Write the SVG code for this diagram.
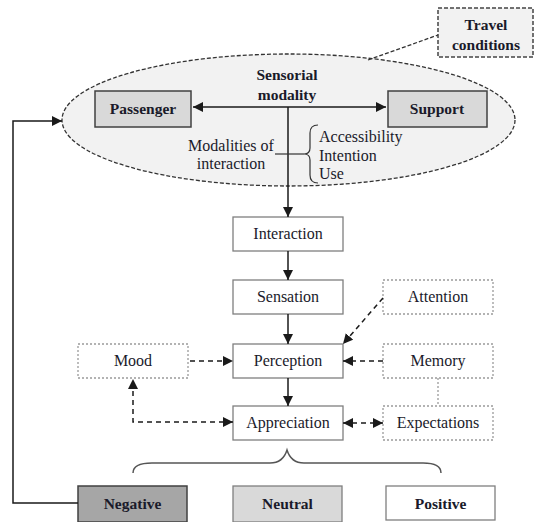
<svg xmlns="http://www.w3.org/2000/svg" width="536" height="522" viewBox="0 0 536 522">
<style>
text{font-family:'Liberation Serif','Times New Roman',Times,'DejaVu Serif',serif;fill:#1a1a2a;text-anchor:middle}
.b{font-weight:bold;font-size:15.5px}
.r{font-size:16px}
.box{fill:#fff;stroke:#7f7f7f;stroke-width:1.3}
.dot{fill:#fff;stroke:#9a9a9a;stroke-width:1.3;stroke-dasharray:2 2}
.gray{fill:#d9d9d9;stroke:#404040;stroke-width:1.5}
.solid{fill:none;stroke:#1a1a1a;stroke-width:1.5}
.dash{fill:none;stroke:#1a1a1a;stroke-width:1.5;stroke-dasharray:5 4}
</style>
<defs>
<marker id="ah" viewBox="0 0 10 10" refX="10" refY="5" markerWidth="10" markerHeight="10" markerUnits="userSpaceOnUse" orient="auto-start-reverse">
<path d="M0,0L10,5L0,10z" fill="#1a1a1a"/>
</marker>
</defs>
<g id="context">
<ellipse cx="288.5" cy="120" rx="226.5" ry="66" fill="#f2f2f2" stroke="#333" stroke-width="1.3" stroke-dasharray="4 2"/>
</g>
<g id="travel">
<rect x="438" y="8" width="95" height="49" fill="#f2f2f2" stroke="#444" stroke-width="1.5" stroke-dasharray="4 2"/>
<text class="b" x="486" y="30">Travel</text>
<text class="b" x="486" y="50">conditions</text>
</g>
<g id="passenger">
<rect class="gray" x="95" y="91" width="96" height="36"/>
<text class="b" x="143" y="114">Passenger</text>
</g>
<g id="support">
<rect class="gray" x="388" y="91" width="99" height="36"/>
<text class="b" x="437" y="114">Support</text>
</g>
<g id="sensorial">
<text class="b" x="287" y="80">Sensorial</text>
<text class="b" x="287" y="100">modality</text>
</g>
<g id="modalities">
<text class="r" x="231" y="151">Modalities of</text>
<text class="r" x="231" y="169">interaction</text>
<path d="M318,125 Q310,125 310,133 L310,148 Q310,154 304,154 Q310,154 310,160 L310,175 Q310,183 318,183" fill="none" stroke="#333" stroke-width="1.2"/>
<text class="r" x="319" y="142" style="text-anchor:start">Accessibility</text>
<text class="r" x="319" y="161" style="text-anchor:start">Intention</text>
<text class="r" x="319" y="179" style="text-anchor:start">Use</text>
</g>
<g id="interaction">
<rect class="box" x="233" y="217" width="110" height="34"/>
<text class="r" x="288" y="239">Interaction</text>
</g>
<g id="sensation">
<rect class="box" x="233" y="280" width="110" height="34"/>
<text class="r" x="288" y="302">Sensation</text>
</g>
<g id="perception">
<rect class="box" x="233" y="344" width="110" height="34"/>
<text class="r" x="288" y="366">Perception</text>
</g>
<g id="appreciation">
<rect class="box" x="233" y="406" width="110" height="34"/>
<text class="r" x="288" y="428">Appreciation</text>
</g>
<g id="attention">
<rect class="dot" x="383" y="280" width="110" height="34"/>
<text class="r" x="438" y="302">Attention</text>
</g>
<g id="memory">
<rect class="dot" x="383" y="344" width="110" height="34"/>
<text class="r" x="438" y="366">Memory</text>
</g>
<g id="expectations">
<rect class="dot" x="383" y="406" width="110" height="34"/>
<text class="r" x="438" y="428">Expectations</text>
</g>
<g id="mood">
<rect class="dot" x="78" y="344" width="110" height="34"/>
<text class="r" x="133" y="366">Mood</text>
</g>
<g id="negative">
<rect x="78" y="486" width="109" height="36" fill="#a6a6a6" stroke="#404040" stroke-width="1.5"/>
<text class="b" x="132.5" y="509">Negative</text>
</g>
<g id="neutral">
<rect x="233" y="486" width="109" height="36" fill="#d9d9d9" stroke="#7f7f7f" stroke-width="1.3"/>
<text class="b" x="287.5" y="509">Neutral</text>
</g>
<g id="positive">
<rect class="box" x="386" y="486" width="109" height="34"/>
<text class="b" x="440.5" y="509">Positive</text>
</g>
<g id="connectors">
<line x1="368" y1="60" x2="438" y2="35" stroke="#333" stroke-width="1.3" stroke-dasharray="4 2"/>
<line class="solid" x1="193" y1="107" x2="386" y2="107" marker-start="url(#ah)" marker-end="url(#ah)"/>
<line class="solid" x1="288" y1="107" x2="288" y2="217" marker-end="url(#ah)"/>
<line x1="275" y1="154" x2="304" y2="154" stroke="#333" stroke-width="1.2"/>
<line class="solid" x1="288" y1="251" x2="288" y2="280" marker-end="url(#ah)"/>
<line class="solid" x1="288" y1="314" x2="288" y2="344" marker-end="url(#ah)"/>
<line class="solid" x1="288" y1="378" x2="288" y2="406" marker-end="url(#ah)"/>
<line class="dash" x1="383" y1="298" x2="343" y2="344" marker-end="url(#ah)"/>
<line class="dash" x1="190" y1="361" x2="233" y2="361" marker-end="url(#ah)"/>
<line class="dash" x1="383" y1="361" x2="343" y2="361" marker-end="url(#ah)"/>
<line x1="438" y1="378" x2="438" y2="406" stroke="#9a9a9a" stroke-width="1.3" stroke-dasharray="2 2"/>
<line class="dash" x1="343" y1="423" x2="383" y2="423" marker-start="url(#ah)" marker-end="url(#ah)"/>
<path class="dash" d="M233,422 L133,422 L133,379" marker-start="url(#ah)" marker-end="url(#ah)"/>
<path d="M133,473 Q133,463 152,463 L270,463 Q283,463 287,450 Q291,463 304,463 L423,463 Q441,463 441,473" fill="none" stroke="#555" stroke-width="1.5"/>
<path class="solid" d="M78,503 L13,503 L13,121 L62,121" marker-end="url(#ah)"/>
</g>
</svg>
